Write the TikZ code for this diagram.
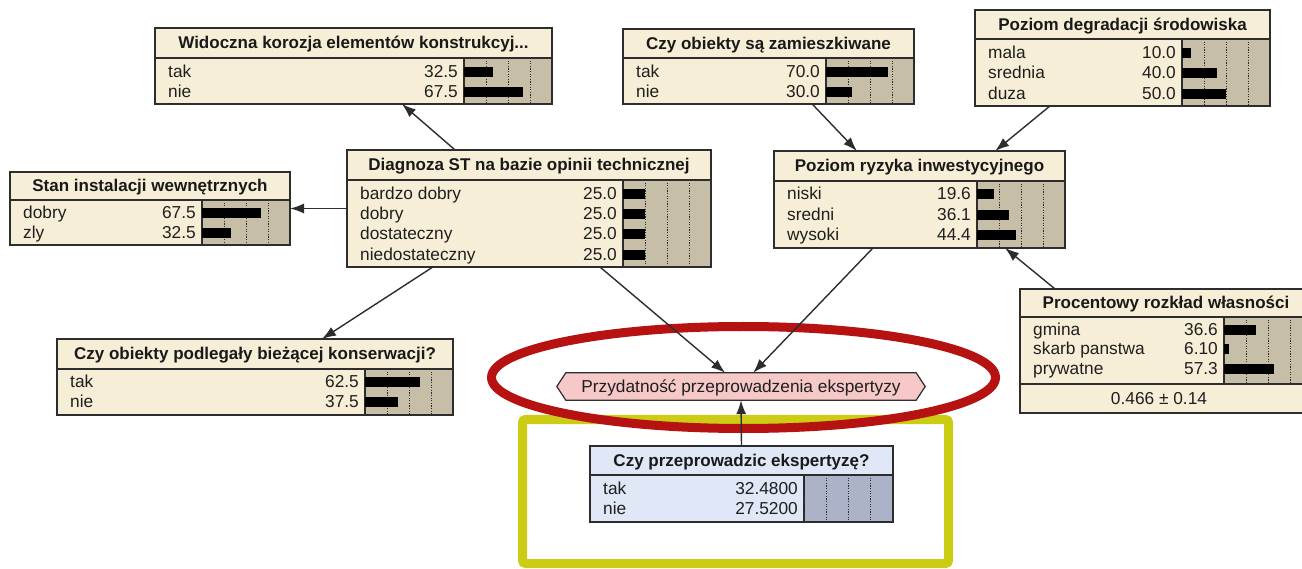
\documentclass[tikz,border=0pt]{standalone}
\usepackage{fontspec}
\setmainfont{Liberation Sans}
\usetikzlibrary{calc,arrows.meta,shapes.geometric}
\definecolor{cream}{RGB}{246,238,214}
\definecolor{tanbar}{RGB}{199,190,168}
\definecolor{edge}{RGB}{45,45,45}
\definecolor{lblue}{RGB}{224,231,246}
\definecolor{bblue}{RGB}{172,178,200}
\definecolor{pinkf}{RGB}{246,200,200}
\definecolor{ellred}{RGB}{182,18,18}
\definecolor{ylw}{RGB}{204,204,20}
\tikzset{
  netbox/.style={draw=edge, line width=1.5pt, inner sep=0pt, outer sep=0pt},
  sepline/.style={draw=edge, line width=1.3pt},
  dotline/.style={draw=edge, line width=0.8pt, dash pattern=on 1.2pt off 1.4pt},
  titletext/.style={inner sep=0pt, anchor=base, font=\fontsize{17}{20}\selectfont\bfseries, text=black!90},
  rowtext/.style={inner sep=0pt, font=\fontsize{17.3}{20}\selectfont, text=black!88},
  arr/.style={draw=edge, line width=1.4pt, -{Latex[length=14pt,width=10pt]}},
}
\def\bodycol{cream}\def\barcol{tanbar}
% name, x0, y0, x1, y1, yheader, barstart, title
\newcommand\NetBox[8]{%
  \pgfmathsetmacro\nbw{#4-#2}\pgfmathsetmacro\nbh{#5-#3}%
  \node[netbox, fill=\bodycol, minimum width=\nbw pt, minimum height=\nbh pt, anchor=north west] (#1) at (#2,#3) {};
  \fill[\barcol] (#7,#6) rectangle (#4,#5);
  \foreach \k in {1,2,3}{\draw[dotline] ({#7+22*\k},#6) -- ({#7+22*\k},#5);}
  \draw[sepline] (#7,#6) -- (#7,#5);
  \draw[sepline] (#2,#6) -- (#4,#6);
  \node[titletext] (#1-title) at ({(#2+#4)/2},{(#3+#6)/2+6}) {#8};
}
\newcommand\NetBorder[1]{\draw[netbox] (#1.north west) rectangle (#1.south east);}
% x0, barstart, y, label, value, fraction
\newcommand\NetRow[6]{%
  \node[rowtext, anchor=base west] at ({#1+13},{#3+6}) {#4};
  \node[rowtext, anchor=base east] at ({#2-6},{#3+6}) {#5};
  \fill[black] (#2,{#3-5}) rectangle ({#2+88*#6},{#3+5});
}
\begin{document}
\begin{tikzpicture}[x=1pt,y=-1pt]
\useasboundingbox (0,0) rectangle (1302,569);
\fill[white] (0,0) rectangle (1302,569);

% highlight frames
\node[draw=ylw, line width=9pt, rounded corners=3pt, minimum width=426pt, minimum height=144pt, inner sep=0pt] (yframe) at (735.5,491.5) {};
\node[draw=ellred, line width=9pt, ellipse, minimum width=504pt, minimum height=102pt, inner sep=0pt] (ring) at (743.5,377.5) {};

% Widoczna korozja
\NetBox{wid}{155}{28}{552}{104}{58}{464}{Widoczna korozja elementów konstrukcyj...}
\NetRow{155}{464}{72}{tak}{32.5}{0.325}
\NetRow{155}{464}{92}{nie}{67.5}{0.675}
\NetBorder{wid}

% Czy obiekty sa zamieszkiwane
\NetBox{zam}{623}{29}{914}{104}{58}{826}{Czy obiekty są zamieszkiwane}
\NetRow{623}{826}{72}{tak}{70.0}{0.70}
\NetRow{623}{826}{92}{nie}{30.0}{0.30}
\NetBorder{zam}

% Poziom degradacji
\NetBox{deg}{975}{10}{1270}{106}{39}{1182}{Poziom degradacji środowiska}
\NetRow{975}{1182}{53}{mala}{10.0}{0.10}
\NetRow{975}{1182}{73}{srednia}{40.0}{0.40}
\NetRow{975}{1182}{94}{duza}{50.0}{0.50}
\NetBorder{deg}

% Stan instalacji
\NetBox{stan}{10}{172}{290}{245}{200}{202}{Stan instalacji wewnętrznych}
\NetRow{10}{202}{213}{dobry}{67.5}{0.675}
\NetRow{10}{202}{233}{zly}{32.5}{0.325}
\NetBorder{stan}

% Diagnoza
\NetBox{diag}{347}{150}{711}{267}{180}{623}{Diagnoza ST na bazie opinii technicznej}
\NetRow{347}{623}{194}{bardzo dobry}{25.0}{0.25}
\NetRow{347}{623}{214}{dobry}{25.0}{0.25}
\NetRow{347}{623}{234}{dostateczny}{25.0}{0.25}
\NetRow{347}{623}{255}{niedostateczny}{25.0}{0.25}
\NetBorder{diag}

% Poziom ryzyka
\NetBox{ryz}{774}{151}{1065}{248}{181}{977}{Poziom ryzyka inwestycyjnego}
\NetRow{774}{977}{194}{niski}{19.6}{0.196}
\NetRow{774}{977}{215}{sredni}{36.1}{0.361}
\NetRow{774}{977}{235}{wysoki}{44.4}{0.444}
\NetBorder{ryz}

% Procentowy rozklad
\node[netbox, fill=cream, minimum width=292pt, minimum height=29pt, anchor=north west] (procfoot) at (1020,384) {};
\node[rowtext, anchor=base] (procval) at (1159,404) {0.466 ± 0.14};
\NetBox{proc}{1020}{289}{1312}{384}{317}{1224}{Procentowy rozkład własności}
\NetRow{1020}{1224}{330}{gmina}{36.6}{0.366}
\NetRow{1020}{1224}{349}{skarb panstwa}{6.10}{0.061}
\NetRow{1020}{1224}{369}{prywatne}{57.3}{0.573}
\NetBorder{proc}

% Czy obiekty podlegaly
\NetBox{kons}{57}{339}{453}{415}{369}{365}{Czy obiekty podlegały bieżącej konserwacji?}
\NetRow{57}{365}{382}{tak}{62.5}{0.625}
\NetRow{57}{365}{402}{nie}{37.5}{0.375}
\NetBorder{kons}

% Przydatnosc (hexagon)
\path node[inner sep=0pt, minimum width=368pt, minimum height=27pt] (hex) at (741,386.5) {};
\filldraw[fill=pinkf, draw=edge, line width=1.2pt] (hex.west) -- ([xshift=9pt]hex.north west) -- ([xshift=-9pt]hex.north east) -- (hex.east) -- ([xshift=-9pt]hex.south east) -- ([xshift=9pt]hex.south west) -- cycle;
\node[rowtext, anchor=base] (hextxt) at (741,392.5) {Przydatność przeprowadzenia ekspertyzy};

% Czy przeprowadzic ekspertyze
\def\bodycol{lblue}\def\barcol{bblue}
\NetBox{eksp}{590}{446}{893}{522}{475}{804}{Czy przeprowadzic ekspertyzę?}
\NetRow{590}{804}{488}{tak}{32.4800}{0}
\NetRow{590}{804}{508}{nie}{27.5200}{0}
\NetBorder{eksp}

% connectors
\draw[arr] ($(diag.north west)!0.297!(diag.north east)$) -- ($(wid.south west)!0.622!(wid.south east)$);
\draw[arr] (diag.west) -- (stan.east);
\draw[arr] ($(diag.south west)!0.236!(diag.south east)$) -- ($(kons.north west)!0.669!(kons.north east)$);
\draw[arr] ($(diag.south west)!0.695!(diag.south east)$) -- ($(hex.north west)!0.457!(hex.north east)$);
\draw[arr] ($(ryz.south west)!0.34!(ryz.south east)$) -- ($(hex.north west)!0.533!(hex.north east)$);
\draw[arr] ($(zam.south west)!0.65!(zam.south east)$) -- ($(ryz.north west)!0.285!(ryz.north east)$);
\draw[arr] ($(deg.south west)!0.254!(deg.south east)$) -- ($(ryz.north west)!0.76!(ryz.north east)$);
\draw[arr] ($(proc.north west)!0.12!(proc.north east)$) -- ($(ryz.south west)!0.794!(ryz.south east)$);
\draw[arr] (eksp.north) -- (hex.south);
\end{tikzpicture}
\end{document}
